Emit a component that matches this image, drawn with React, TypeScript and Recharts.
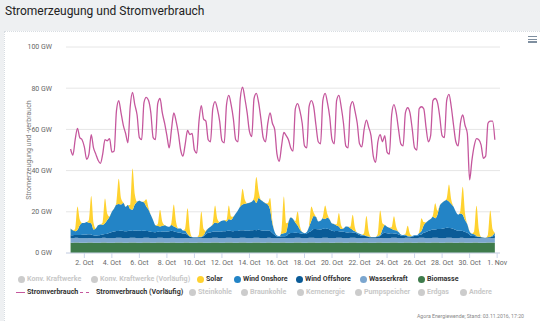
import React from 'react';
import { ComposedChart, Area, Line, XAxis, YAxis, CartesianGrid } from 'recharts';

// 4-hour samples from 1 Oct 2016 00:00, one row per day (0h, 4h, 8h, 12h, 16h, 20h), GW
const biomasse = [
  5.0, 5.0, 5.1, 5.1, 5.0, 5.0, 5.0, 5.0, 5.1, 5.1, 5.0, 5.0, 5.0, 5.0, 5.1, 5.1, 5.0, 5.0,
  5.0, 5.0, 5.1, 5.1, 5.1, 5.0, 5.0, 5.0, 5.1, 5.1, 5.1, 5.0, 5.0, 5.0, 5.1, 5.1, 5.1, 5.0,
  5.0, 5.0, 5.1, 5.1, 5.1, 5.0, 5.0, 5.0, 5.1, 5.1, 5.0, 5.0, 5.0, 5.0, 5.1, 5.1, 5.0, 5.0,
  5.0, 5.0, 5.1, 5.1, 5.0, 5.0, 5.0, 5.0, 5.1, 5.1, 5.1, 5.0, 5.0, 5.0, 5.1, 5.1, 5.1, 5.0,
  5.0, 5.0, 5.1, 5.1, 5.1, 5.0, 5.0, 5.0, 5.1, 5.1, 5.1, 5.0, 5.0, 5.0, 5.1, 5.1, 5.0, 5.0,
  5.0, 5.0, 5.1, 5.1, 5.0, 5.0, 5.0, 5.0, 5.1, 5.1, 5.1, 5.0, 5.0, 5.0, 5.1, 5.1, 5.1, 5.0,
  5.0, 5.0, 5.1, 5.1, 5.1, 5.0, 5.0, 5.0, 5.1, 5.1, 5.1, 5.0, 5.0, 5.0, 5.1, 5.1, 5.1, 5.0,
  5.0, 5.0, 5.1, 5.1, 5.0, 5.0, 5.0, 5.0, 5.1, 5.1, 5.0, 5.0, 5.0, 5.0, 5.1, 5.1, 5.1, 5.0,
  5.0, 5.0, 5.1, 5.1, 5.1, 5.0, 5.0, 5.0, 5.1, 5.1, 5.1, 5.0, 5.0, 5.0, 5.1, 5.1, 5.1, 5.0,
  5.0, 5.0, 5.1, 5.1, 5.1, 5.0, 5.0, 5.0, 5.1, 5.1, 5.0, 5.0, 5.0, 5.0, 5.1, 5.1, 5.0, 5.0,
  5.0, 5.0, 5.1, 5.1, 5.1, 5.0,
];

const wasserkraft = [
  2.2, 2.2, 2.3, 2.3, 2.2, 2.2, 2.2, 2.1, 2.2, 2.2, 2.2, 2.2, 2.2, 2.2, 2.3, 2.3, 2.2, 2.2,
  2.2, 2.2, 2.3, 2.3, 2.3, 2.2, 2.2, 2.2, 2.3, 2.3, 2.3, 2.2, 2.2, 2.2, 2.3, 2.3, 2.3, 2.2,
  2.2, 2.2, 2.3, 2.3, 2.3, 2.2, 2.2, 2.2, 2.3, 2.3, 2.2, 2.2, 2.2, 2.1, 2.2, 2.2, 2.2, 2.2,
  2.1, 2.1, 2.2, 2.2, 2.2, 2.2, 2.2, 2.2, 2.3, 2.3, 2.3, 2.2, 2.2, 2.2, 2.3, 2.3, 2.3, 2.2,
  2.2, 2.2, 2.3, 2.3, 2.3, 2.2, 2.2, 2.2, 2.3, 2.3, 2.3, 2.2, 2.2, 2.2, 2.3, 2.3, 2.2, 2.2,
  2.1, 2.1, 2.2, 2.2, 2.2, 2.2, 2.2, 2.2, 2.3, 2.3, 2.3, 2.2, 2.2, 2.2, 2.3, 2.3, 2.3, 2.2,
  2.2, 2.2, 2.3, 2.3, 2.3, 2.2, 2.2, 2.2, 2.3, 2.3, 2.3, 2.2, 2.2, 2.2, 2.3, 2.3, 2.3, 2.2,
  2.2, 2.1, 2.2, 2.2, 2.2, 2.2, 2.1, 2.1, 2.2, 2.2, 2.2, 2.2, 2.2, 2.2, 2.3, 2.3, 2.3, 2.2,
  2.2, 2.2, 2.3, 2.3, 2.3, 2.2, 2.2, 2.2, 2.3, 2.3, 2.3, 2.2, 2.2, 2.2, 2.3, 2.3, 2.3, 2.2,
  2.2, 2.2, 2.3, 2.3, 2.3, 2.2, 2.2, 2.2, 2.3, 2.3, 2.2, 2.2, 2.1, 2.1, 2.2, 2.2, 2.2, 2.2,
  2.1, 2.1, 2.2, 2.2, 2.2, 2.2,
];

const windOffshore = [
  1.4, 1.4, 1.3, 1.3, 1.5, 1.6, 1.8, 1.9, 1.8, 1.7, 1.4, 1.3, 1.4, 1.5, 1.6, 1.8, 2.2, 2.6,
  3.0, 3.2, 3.3, 3.3, 3.4, 3.5, 3.4, 3.5, 3.4, 3.3, 3.5, 3.6, 3.6, 3.5, 3.4, 3.3, 3.2, 3.1,
  3.0, 2.9, 2.9, 2.8, 3.0, 3.1, 3.2, 3.3, 3.4, 3.2, 3.0, 2.8, 2.6, 2.4, 2.2, 1.4, 0.7, 0.5,
  0.4, 0.4, 0.4, 0.4, 0.9, 2.0, 2.6, 2.8, 2.9, 3.0, 3.0, 3.1, 3.2, 3.3, 3.3, 3.4, 3.3, 3.4,
  3.5, 3.5, 3.6, 3.6, 3.5, 3.6, 3.7, 3.8, 3.8, 3.7, 3.9, 3.8, 3.7, 3.6, 3.5, 3.3, 2.5, 1.5,
  0.9, 0.7, 0.8, 0.8, 1.0, 2.0, 2.5, 2.5, 2.4, 2.3, 2.2, 2.1, 2.0, 2.3, 2.8, 3.3, 4.2, 4.5,
  4.3, 4.2, 4.4, 4.3, 4.4, 4.2, 3.6, 3.4, 3.3, 3.2, 3.0, 3.1, 2.9, 2.8, 2.7, 2.6, 2.4, 2.2,
  1.5, 1.3, 1.1, 0.8, 0.6, 0.5, 0.5, 0.5, 0.7, 1.0, 2.2, 2.6, 2.4, 2.3, 2.2, 2.1, 2.0, 1.8,
  1.3, 1.1, 1.0, 0.6, 0.5, 0.8, 1.0, 1.0, 1.3, 1.6, 2.4, 3.0, 3.5, 3.8, 4.0, 4.0, 4.3, 4.5,
  4.6, 4.8, 4.8, 4.7, 4.6, 4.4, 4.0, 3.6, 3.4, 3.3, 3.0, 2.6, 1.8, 1.2, 1.0, 0.7, 0.6, 0.5,
  0.3, 0.2, 0.3, 0.4, 0.7, 1.4,
];

const windOnshore = [
  3.3, 2.4, 1.9, 2.5, 4.8, 5.8, 5.6, 6.0, 5.6, 5.4, 2.8, 3.4, 4.9, 5.1, 4.7, 5.3, 6.6, 7.8,
  9.8, 11.2, 12.8, 13.1, 12.7, 13.7, 11.8, 12.6, 10.5, 10.3, 12.6, 14.1, 14.6, 14.2, 13.8, 11.9, 10.4, 8.1,
  5.7, 3.4, 2.9, 2.7, 2.8, 3.2, 2.6, 2.2, 2.8, 2.3, 2.2, 1.9, 2.1, 1.4, 1.3, 0.5, 0.2, 0.1,
  0.2, 0.2, 0.2, 0.2, 0.5, 1.5, 2.1, 2.7, 3.4, 4.4, 4.1, 4.8, 5.2, 5.4, 4.6, 5.7, 5.4, 7.0,
  8.5, 10.1, 11.6, 12.5, 13.0, 13.3, 13.5, 13.9, 14.7, 13.2, 15.4, 14.7, 14.0, 13.3, 12.6, 10.3, 4.6, 1.5,
  0.5, 0.3, 1.2, 1.5, 1.8, 5.8, 7.5, 6.8, 5.0, 3.7, 1.8, 0.9, 0.4, 0.7, 2.5, 5.0, 6.4, 5.9,
  3.8, 4.2, 5.1, 4.8, 5.4, 4.8, 3.5, 3.4, 2.7, 2.3, 1.3, 1.6, 2.8, 2.8, 1.9, 1.2, 0.7, 0.4,
  0.6, 0.5, 0.3, 0.2, 0.2, 0.1, 0.1, 0.2, 0.3, 0.4, 2.1, 3.8, 3.2, 2.8, 2.2, 1.7, 1.6, 1.2,
  0.5, 0.4, 0.4, 0.2, 0.2, 0.3, 0.4, 0.4, 0.9, 1.7, 3.7, 4.6, 5.1, 5.5, 6.2, 5.5, 7.0, 11.3,
  12.6, 13.3, 13.5, 12.9, 11.8, 10.8, 8.8, 7.8, 8.4, 7.9, 5.8, 4.1, 1.5, 1.0, 0.8, 0.3, 0.2, 0.1,
  0.1, 0.1, 0.1, 0.2, 0.5, 1.2,
];

const solar = [
  0, 0, 1.1, 11.4, 2.8, 0, 0, 0, 1.3, 13.3, 3.3, 0, 0, 0, 1.2, 11.9, 3.0, 0,
  0, 0, 1.2, 12.3, 3.1, 0, 0, 0, 2.0, 20.0, 5.0, 0, 0, 0, 0.4, 3.5, 0.9, 0,
  0, 0, 0.8, 8.1, 2.0, 0, 0, 0, 1.1, 10.6, 2.6, 0, 0, 0, 1.2, 12.5, 3.1, 0,
  0, 0, 1.2, 12.2, 3.0, 0, 0, 0, 0.8, 8.2, 2.0, 0, 0, 0, 0.7, 6.6, 1.6, 0,
  0, 0, 0.8, 7.7, 1.9, 0, 0, 0, 1.3, 12.6, 3.1, 0, 0, 0, 0.6, 5.7, 1.4, 0,
  0, 0, 1.8, 17.8, 4.4, 0, 0, 0, 0.7, 6.8, 1.7, 0, 0, 0, 0.7, 6.9, 1.7, 0,
  0, 0, 0.7, 6.6, 1.6, 0, 0, 0, 0.6, 6.5, 1.6, 0, 0, 0, 0.7, 7.4, 1.8, 0,
  0, 0, 1.0, 9.7, 2.4, 0, 0, 0, 1.2, 11.9, 2.9, 0, 0, 0, 0.7, 6.6, 1.6, 0,
  0, 0, 0.5, 5.0, 1.2, 0, 0, 0, 0.6, 6.2, 1.5, 0, 0, 0, 0.7, 7.3, 1.8, 0,
  0, 0, 0.8, 8.2, 2.0, 0, 0, 0, 1.3, 13.5, 3.3, 0, 0, 0, 1.4, 14.6, 3.6, 0,
  0, 0, 1.2, 12.7, 3.1, 0,
];

const stromverbrauch = [
  50.5, 47.5, 55, 60.5, 56, 55, 51.5, 45.5, 48, 57.5, 51, 48, 45, 43.5, 48, 55, 54.5, 55.5,
  49, 49.5, 69, 74, 68, 62, 58, 53.5, 71, 78, 72, 67, 56, 55, 73, 75.5, 74, 68,
  56, 55, 72.5, 75, 68, 63, 57, 51, 60, 68, 64, 58, 50, 47, 53, 59.5, 57.5, 58,
  50, 48.5, 64, 71.5, 65, 64, 55, 54, 70, 73.5, 70, 64, 54.5, 53.5, 72, 76.5, 72, 65,
  55, 54, 75, 80.5, 75, 68, 59, 56.5, 75, 77.5, 73, 65, 56, 54, 63, 68, 63, 60,
  48, 44.5, 52, 58.5, 57, 55, 51, 49.5, 70, 72.5, 69, 63, 52, 51, 71, 74, 71, 62,
  54, 53, 74, 77.5, 73, 66, 55, 53, 74, 76.5, 71, 63, 52, 51, 71, 73.5, 69, 63,
  53, 51.5, 60, 64.5, 61, 57, 47, 44, 54, 57.5, 54, 57, 49, 48, 67, 72, 68, 60,
  53, 52, 68, 70.5, 68, 60, 51, 50, 70, 71, 70, 61, 54, 57, 74, 75, 73, 66,
  57, 56, 74, 77, 71, 62, 54, 52, 63, 67, 62, 58, 35.5, 45, 52, 55.5, 55, 52.5,
  46, 47, 63, 64, 64, 55,
];

const xTicks = [24, 72, 120, 168, 216, 264, 312, 360, 408, 456, 504, 552, 600, 648, 696, 744];
const xTickLabels = ['2. Oct', '4. Oct', '6. Oct', '8. Oct', '10. Oct', '12. Oct', '14. Oct', '16. Oct',
  '18. Oct', '20. Oct', '22. Oct', '24. Oct', '26. Oct', '28. Oct', '30. Oct', '1. Nov'];
const yTicks = [0, 20, 40, 60, 80, 100];

const data = stromverbrauch.map((v, i) => ({
  t: i * 4,
  biomasse: biomasse[i],
  wasserkraft: wasserkraft[i],
  windOffshore: windOffshore[i],
  windOnshore: windOnshore[i],
  solar: solar[i],
  stromverbrauch: v,
}));

const COLORS = {
  solar: '#ffd230',
  onshore: '#2384c6',
  offshore: '#0a5b97',
  wasser: '#7ba6cf',
  biomasse: '#3e7b4b',
  verbrauch: '#c5579d',
  off: '#cccccc',
};

const FONT = 'Roboto, "Open Sans", sans-serif';

const legendRow1 = [
  { name: 'Konv. Kraftwerke', color: COLORS.off, active: false, x: 21 },
  { name: 'Konv. Kraftwerke (Vorläufig)', color: COLORS.off, active: false, x: 94 },
  { name: 'Solar', color: COLORS.solar, active: true, x: 200 },
  { name: 'Wind Onshore', color: COLORS.onshore, active: true, x: 237 },
  { name: 'Wind Offshore', color: COLORS.offshore, active: true, x: 299 },
  { name: 'Wasserkraft', color: COLORS.wasser, active: true, x: 363 },
  { name: 'Biomasse', color: COLORS.biomasse, active: true, x: 421 },
];
const legendRow2 = [
  { name: 'Steinkohle', x: 192 },
  { name: 'Braunkohle', x: 244 },
  { name: 'Kernenergie', x: 300 },
  { name: 'Pumpspeicher', x: 358 },
  { name: 'Erdgas', x: 421 },
  { name: 'Andere', x: 463 },
];

const legendText = (active: boolean): React.CSSProperties => ({
  position: 'absolute',
  fontFamily: FONT,
  fontSize: 7.1,
  fontWeight: 700,
  color: active ? '#333' : '#c8c8c8',
  whiteSpace: 'nowrap',
  lineHeight: '8px',
});

const Dot = ({ x, y, color }: { x: number; y: number; color: string }) => (
  <div style={{ position: 'absolute', left: x - 3.5, top: y - 3.5, width: 7, height: 7, borderRadius: '50%', background: color }} />
);

const Legend = () => (
  <>
    {legendRow1.map((it) => (
      <React.Fragment key={it.name}>
        <Dot x={it.x} y={279} color={it.color} />
        <div style={{ ...legendText(it.active), left: it.x + 6, top: 275 }}>{it.name}</div>
      </React.Fragment>
    ))}
    <div style={{ position: 'absolute', left: 16, top: 291.5, width: 9, height: 1.5, background: COLORS.verbrauch }} />
    <div style={{ ...legendText(true), left: 27, top: 288 }}>Stromverbrauch</div>
    <div style={{ position: 'absolute', left: 80, top: 291.5, width: 9, height: 0, borderTop: `1.5px dashed ${COLORS.verbrauch}` }} />
    <div style={{ ...legendText(true), left: 96, top: 288 }}>Stromverbrauch (Vorläufig)</div>
    {legendRow2.map((it) => (
      <React.Fragment key={it.name}>
        <Dot x={it.x} y={292} color={COLORS.off} />
        <div style={{ ...legendText(false), left: it.x + 6, top: 288 }}>{it.name}</div>
      </React.Fragment>
    ))}
  </>
);

export default function App() {
  return (
    <div style={{ position: 'fixed', left: 0, top: 0, width: 540, height: 321, background: '#eef0f2', overflow: 'hidden', fontFamily: FONT }}>
      <div style={{ position: 'absolute', left: 5, top: 4, fontSize: 12, color: '#222', whiteSpace: 'nowrap' }}>
        Stromerzeugung und Stromverbrauch
      </div>
      <div style={{ position: 'absolute', left: 4, top: 31, right: 0, bottom: 0, background: '#fff', borderTop: '1px dotted #d8dde2', borderLeft: '1px dotted #d8dde2' }} />
      {[36.5, 39.3, 42].map((y) => (
        <div key={y} style={{ position: 'absolute', left: 528, top: y - 0.6, width: 9, height: 1.3, background: '#7f8fa0' }} />
      ))}
      <div style={{ position: 'absolute', left: 29, top: 150, transform: 'translate(-50%, -50%) rotate(-90deg)', fontSize: 7, color: '#777', whiteSpace: 'nowrap' }}>
        Stromerzeugung und -verbrauch
      </div>
      <div style={{ position: 'absolute', left: 0, top: 0 }}>
        <ComposedChart width={540} height={280} data={data} margin={{ top: 47, right: 40, bottom: 7, left: 0 }}>
          <CartesianGrid vertical={false} stroke="#e6e6e6" />
          <XAxis
            dataKey="t"
            type="number"
            domain={[-8, 749]}
            ticks={xTicks}
            tickFormatter={(v: number) => xTickLabels[xTicks.indexOf(v)]}
            axisLine={{ stroke: '#ccd6eb' }}
            tickLine={{ stroke: '#ccd6eb' }}
            tickSize={5}
            tick={{ fill: '#666', fontSize: 7, fontFamily: FONT }}
            height={20}
            interval={0}
          />
          <YAxis
            type="number"
            domain={[0, 100]}
            ticks={yTicks}
            tickFormatter={(v: number) => `${v} GW`}
            axisLine={false}
            tickLine={false}
            tickMargin={8}
            width={66}
            tick={{ fill: '#666', fontSize: 7, fontFamily: FONT }}
          />
          <Area type="monotone" dataKey="biomasse" stackId="gen" stroke="none" fill={COLORS.biomasse} fillOpacity={1} isAnimationActive={false} />
          <Area type="monotone" dataKey="wasserkraft" stackId="gen" stroke="none" fill={COLORS.wasser} fillOpacity={1} isAnimationActive={false} />
          <Area type="monotone" dataKey="windOffshore" stackId="gen" stroke="none" fill={COLORS.offshore} fillOpacity={1} isAnimationActive={false} />
          <Area type="monotone" dataKey="windOnshore" stackId="gen" stroke="none" fill={COLORS.onshore} fillOpacity={1} isAnimationActive={false} />
          <Area type="monotone" dataKey="solar" stackId="gen" stroke="none" fill={COLORS.solar} fillOpacity={1} isAnimationActive={false} />
          <Line type="monotone" dataKey="stromverbrauch" stroke={COLORS.verbrauch} strokeWidth={1.3} dot={false} isAnimationActive={false} />
        </ComposedChart>
      </div>
      <Legend />
      <div style={{ position: 'absolute', right: 16, top: 313, fontSize: 5.2, color: '#888', whiteSpace: 'nowrap' }}>
        Agora Energiewende; Stand: 03.11.2016, 17:20
      </div>
    </div>
  );
}
